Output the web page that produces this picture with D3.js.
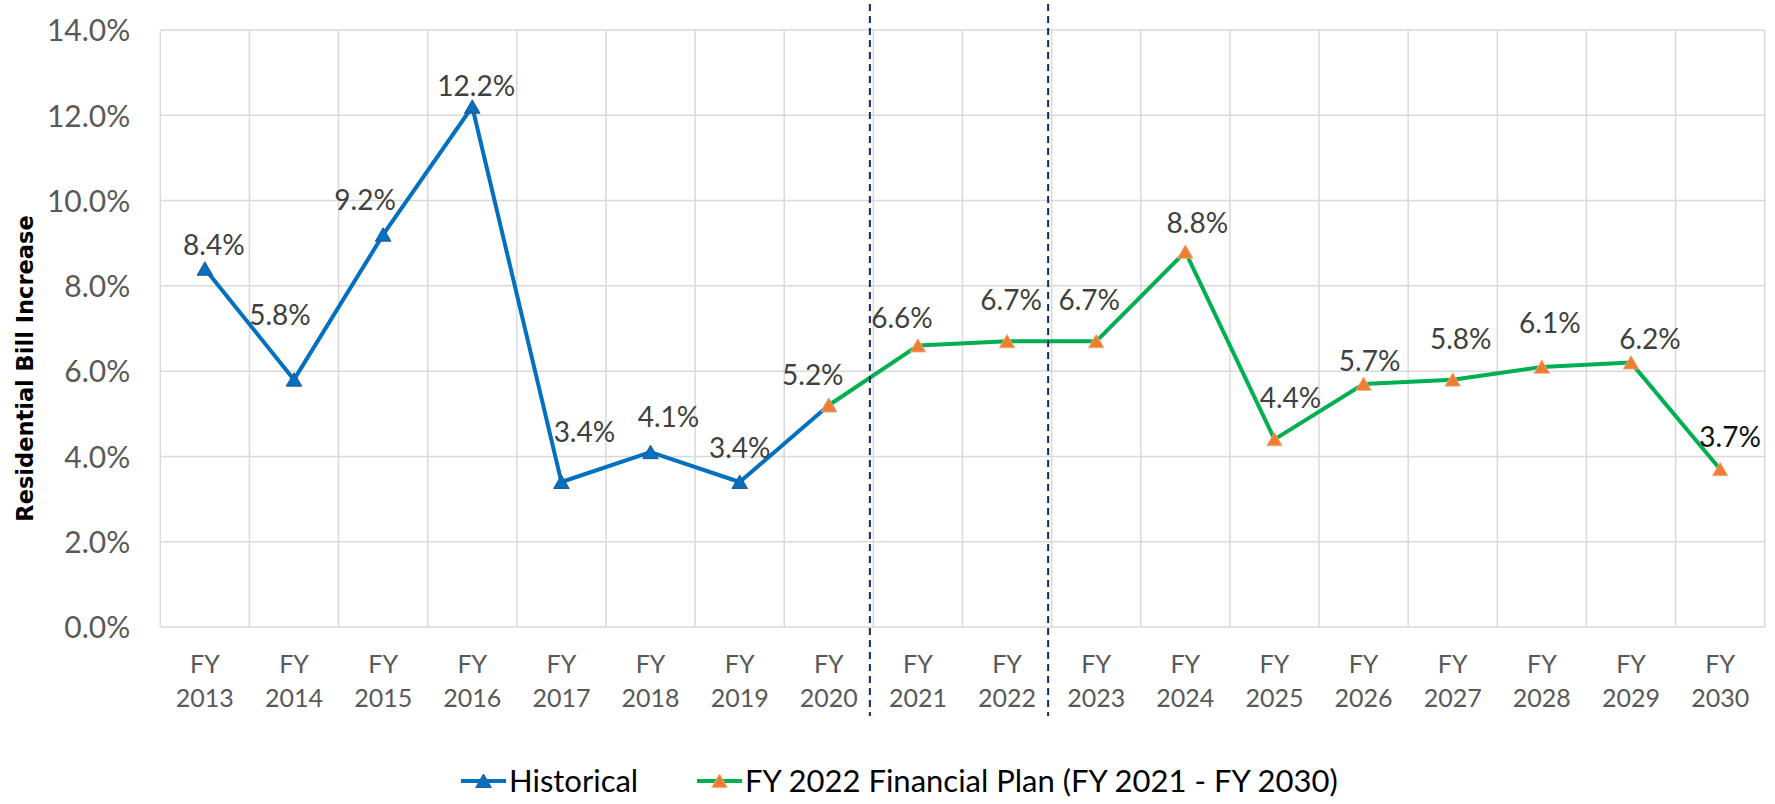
<!DOCTYPE html>
<html>
<head>
<meta charset="utf-8">
<script src="https://cdn.jsdelivr.net/npm/d3@7"></script>
<style>
    body { margin: 0; background: #fff; }
    text { font-family: Lato, "Open Sans", sans-serif; }
</style>
</head>
<body>
<div id="chart"></div>
<script>
// data
const years = ["2013", "2014", "2015", "2016", "2017", "2018", "2019", "2020", "2021",
    "2022", "2023", "2024", "2025", "2026", "2027", "2028", "2029", "2030"];
const historicalYears = years.slice(0, 8);          // FY 2013 - FY 2020
const historical = [8.4, 5.8, 9.2, 12.2, 3.4, 4.1, 3.4, 5.2];
const planYears = years.slice(7);                   // FY 2020 - FY 2030
const plan = [5.2, 6.6, 6.7, 6.7, 8.8, 4.4, 5.7, 5.8, 6.1, 6.2, 3.7];
const yTicks = [0, 2, 4, 6, 8, 10, 12, 14];
const seriesNames = ["Historical", "FY 2022 Financial Plan (FY 2021 - FY 2030)"];
const planBounds = ["2021", "2023"];               // dashed markers sit left of these years

// data labels were nudged by hand in the original (px, from point)
const labelDx = [9, -14, -18, 4, 23, 18, 0, -16, -16, 4, -7, 12, 16, 6, 8, 8, 19, 10];
const labelDy = [-24, -65, -35, -21, -50, -35, -34, -30, -28, -41, -41, -29, -41, -23, -41, -44, -24, -32];

class LineChart {
    constructor(_parentElement) {
        this.parentElement = _parentElement;
        this.colors = {
            historical: "#0070c0", historicalEdge: "#2f5597",
            planLine: "#00b050", planMarker: "#ed7d31",
            grid: "#d9d9d9", tick: "#595959", label: "#404040", guide: "#0f2a66"
        };
        this.initVis();
    }

    initVis() {
        let vis = this;

        vis.margin = {top: 30, right: 10.3, bottom: 177, left: 160.3};
        vis.totalWidth = 1775;
        vis.totalHeight = 804;
        vis.width = vis.totalWidth - vis.margin.left - vis.margin.right;
        vis.height = vis.totalHeight - vis.margin.top - vis.margin.bottom;

        vis.root = d3.select("#" + vis.parentElement).append("svg")
            .attr("width", vis.totalWidth)
            .attr("height", vis.totalHeight);

        vis.svg = vis.root.append("g")
            .attr("transform", `translate(${vis.margin.left}, ${vis.margin.top})`);

        // scales
        vis.x = d3.scaleBand()
            .domain(years)
            .range([0, vis.width])
            .padding(0);

        vis.y = d3.scaleLinear()
            .domain([0, 14])
            .range([vis.height, 0]);

        vis.cx = d => vis.x(d) + vis.x.bandwidth() / 2;

        vis.wrangleData();
    }

    wrangleData() {
        let vis = this;

        vis.histData = historicalYears.map((yr, i) => ({year: yr, value: historical[i]}));
        vis.planData = planYears.map((yr, i) => ({year: yr, value: plan[i]}));

        // one label per year, FY 2020 shared by both series
        let byYear = new Map();
        vis.histData.forEach(d => byYear.set(d.year, d.value));
        vis.planData.forEach(d => byYear.set(d.year, d.value));
        vis.labelData = years.map((yr, i) => ({year: yr, value: byYear.get(yr), dx: labelDx[i], dy: labelDy[i]}));

        vis.updateVis();
    }

    updateVis() {
        let vis = this;

        // gridlines
        vis.svg.append("g").attr("class", "grid-h")
            .selectAll("line").data(yTicks).join("line")
            .attr("x1", 0).attr("x2", vis.width)
            .attr("y1", d => vis.y(d)).attr("y2", d => vis.y(d))
            .attr("stroke", vis.colors.grid).attr("stroke-width", 1.5);

        let edges = years.map(d => vis.x(d)).concat([vis.width]);
        vis.svg.append("g").attr("class", "grid-v")
            .selectAll("line").data(edges).join("line")
            .attr("x1", d => d).attr("x2", d => d)
            .attr("y1", 0).attr("y2", vis.height)
            .attr("stroke", vis.colors.grid).attr("stroke-width", 1.5);

        // y axis tick labels
        let yAxis = d3.axisLeft(vis.y)
            .tickValues(yTicks)
            .tickFormat(d => d.toFixed(1) + "%")
            .tickSize(0)
            .tickPadding(30);
        let yAxisGroup = vis.svg.append("g").attr("class", "y-axis axis").call(yAxis);
        yAxisGroup.select(".domain").remove();
        yAxisGroup.selectAll("text")
            .attr("fill", vis.colors.tick)
            .style("font-size", "30px")
            .attr("dy", "0.36em");

        // x axis labels, two lines each
        let xAxis = d3.axisBottom(vis.x).tickSize(0).tickFormat("");
        let xAxisGroup = vis.svg.append("g").attr("class", "x-axis axis")
            .attr("transform", `translate(0, ${vis.height})`)
            .call(xAxis);
        xAxisGroup.select(".domain").remove();
        xAxisGroup.selectAll(".tick").append("text")
            .attr("text-anchor", "middle")
            .attr("fill", vis.colors.tick)
            .style("font-size", "25px")
            .each(function(d) {
                let t = d3.select(this);
                t.append("tspan").attr("x", 0).attr("y", 46).text("FY");
                t.append("tspan").attr("x", 0).attr("y", 80).text(d);
            });

        // y axis title
        vis.root.append("text")
            .attr("transform", `translate(33, ${vis.margin.top + vis.height / 2 + 40}) rotate(-90)`)
            .attr("text-anchor", "middle")
            .style("font-family", "'DejaVu Sans', sans-serif")
            .style("font-weight", "bold")
            .style("font-size", "22.5px")
            .attr("fill", "#000")
            .text("Residential Bill Increase");

        let line = d3.line()
            .x(d => vis.cx(d.year))
            .y(d => vis.y(d.value));

        let tri = d3.symbol().type(d3.symbolTriangle).size(105);

        // historical series
        vis.svg.append("path")
            .datum(vis.histData)
            .attr("d", line)
            .attr("fill", "none")
            .attr("stroke", vis.colors.historical)
            .attr("stroke-width", 4)
            .attr("stroke-linejoin", "round");

        vis.svg.append("g").selectAll("path")
            .data(vis.histData).join("path")
            .attr("d", tri)
            .attr("transform", d => `translate(${vis.cx(d.year)}, ${vis.y(d.value) + 2})`)
            .attr("fill", vis.colors.historical)
            .attr("stroke", vis.colors.historicalEdge)
            .attr("stroke-width", 1);

        // plan series
        vis.svg.append("path")
            .datum(vis.planData)
            .attr("d", line)
            .attr("fill", "none")
            .attr("stroke", vis.colors.planLine)
            .attr("stroke-width", 4)
            .attr("stroke-linejoin", "round");

        vis.svg.append("g").selectAll("path")
            .data(vis.planData).join("path")
            .attr("d", tri)
            .attr("transform", d => `translate(${vis.cx(d.year)}, ${vis.y(d.value) + 2})`)
            .attr("fill", vis.colors.planMarker)
            .attr("stroke", "#f4b183")
            .attr("stroke-width", 0.8);

        // dashed guides around FY 2021 - FY 2022
        vis.svg.append("g").selectAll("line")
            .data(planBounds).join("line")
            .attr("x1", d => vis.x(d) - 3.5).attr("x2", d => vis.x(d) - 3.5)
            .attr("y1", 4 - vis.margin.top).attr("y2", 716 - vis.margin.top)
            .attr("stroke", vis.colors.guide)
            .attr("stroke-width", 2)
            .attr("stroke-dasharray", "7,5");

        // data labels
        vis.svg.append("g").attr("class", "labels")
            .selectAll("text").data(vis.labelData).join("text")
            .attr("x", d => vis.cx(d.year) + d.dx)
            .attr("y", d => vis.y(d.value) + d.dy)
            .attr("dy", "0.36em")
            .attr("text-anchor", "middle")
            .attr("fill", d => d.year === "2030" ? "#111" : vis.colors.label)
            .style("font-size", "28px")
            .text(d => d.value.toFixed(1) + "%");

        // legend
        let legendItems = [
            {name: seriesNames[0], x: 461, line: vis.colors.historical, marker: vis.colors.historical, edge: vis.colors.historicalEdge},
            {name: seriesNames[1], x: 697, line: vis.colors.planLine, marker: vis.colors.planMarker, edge: "#f4b183"}
        ];
        let legend = vis.root.append("g").attr("class", "legend")
            .attr("transform", "translate(0, 781)");
        let item = legend.selectAll("g").data(legendItems).join("g")
            .attr("transform", d => `translate(${d.x}, 0)`);
        item.append("line")
            .attr("x1", 0).attr("x2", 45)
            .attr("stroke", d => d.line).attr("stroke-width", 4);
        item.append("path")
            .attr("d", tri)
            .attr("transform", "translate(22.5, 2)")
            .attr("fill", d => d.marker)
            .attr("stroke", d => d.edge);
        item.append("text")
            .attr("x", 48)
            .attr("dy", "0.36em")
            .attr("fill", "#000")
            .style("font-size", "31px")
            .text(d => d.name);
    }
}

let chart = new LineChart("chart");
</script>
</body>
</html>
